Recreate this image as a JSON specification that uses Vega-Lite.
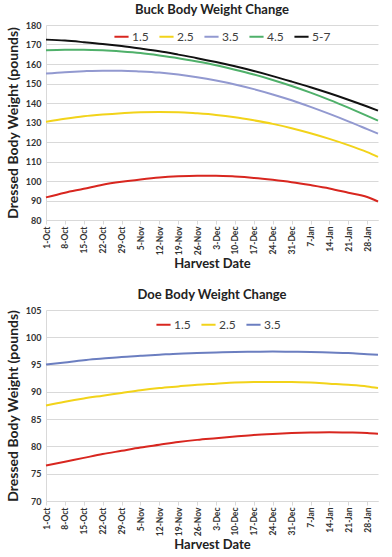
{
  "$schema": "https://vega.github.io/schema/vega-lite/v6.json",
  "padding": {"left": 6, "top": 4, "right": 6, "bottom": 2},
  "background": "white",
  "config": {
    "font": "Lato",
    "view": {"stroke": null},
    "title": {"fontSize": 13, "fontWeight": "bold", "color": "#222222", "offset": 4},
    "axis": {
      "labelFont": "Lato", "labelFontWeight": "bold", "labelColor": "#333333",
      "titleFont": "Lato", "titleFontWeight": "bold", "titleColor": "#222222", "titleFontSize": 14,
      "gridColor": "#d9d9d9", "domainColor": "#d9d9d9", "tickColor": "#d9d9d9"
    },
    "legend": {
      "labelFont": "Lato", "labelFontSize": 12, "labelColor": "#404040",
      "symbolType": "stroke", "symbolSize": 200, "symbolStrokeWidth": 2,
      "orient": "none", "direction": "horizontal", "title": null, "columnPadding": 6, "labelOffset": 2
    }
  },
  "datasets": {
    "buck": [
      {"date": "2020-10-01", "age": "1.5", "weight": 91.6}, {"date": "2020-10-08", "age": "1.5", "weight": 94.0}, {"date": "2020-10-15", "age": "1.5", "weight": 96.0}, {"date": "2020-10-22", "age": "1.5", "weight": 98.1}, {"date": "2020-10-29", "age": "1.5", "weight": 99.6}, {"date": "2020-11-05", "age": "1.5", "weight": 100.8}, {"date": "2020-11-12", "age": "1.5", "weight": 101.8}, {"date": "2020-11-19", "age": "1.5", "weight": 102.4}, {"date": "2020-11-26", "age": "1.5", "weight": 102.7}, {"date": "2020-12-03", "age": "1.5", "weight": 102.7}, {"date": "2020-12-10", "age": "1.5", "weight": 102.3}, {"date": "2020-12-17", "age": "1.5", "weight": 101.6}, {"date": "2020-12-24", "age": "1.5", "weight": 100.6}, {"date": "2020-12-31", "age": "1.5", "weight": 99.4}, {"date": "2021-01-07", "age": "1.5", "weight": 97.9}, {"date": "2021-01-14", "age": "1.5", "weight": 96.2}, {"date": "2021-01-21", "age": "1.5", "weight": 94.0}, {"date": "2021-01-28", "age": "1.5", "weight": 91.8}, {"date": "2021-02-01", "age": "1.5", "weight": 89.5},
      {"date": "2020-10-01", "age": "2.5", "weight": 130.4}, {"date": "2020-10-08", "age": "2.5", "weight": 131.9}, {"date": "2020-10-15", "age": "2.5", "weight": 133.2}, {"date": "2020-10-22", "age": "2.5", "weight": 134.1}, {"date": "2020-10-29", "age": "2.5", "weight": 134.8}, {"date": "2020-11-05", "age": "2.5", "weight": 135.3}, {"date": "2020-11-12", "age": "2.5", "weight": 135.4}, {"date": "2020-11-19", "age": "2.5", "weight": 135.3}, {"date": "2020-11-26", "age": "2.5", "weight": 134.7}, {"date": "2020-12-03", "age": "2.5", "weight": 133.9}, {"date": "2020-12-10", "age": "2.5", "weight": 132.7}, {"date": "2020-12-17", "age": "2.5", "weight": 131.1}, {"date": "2020-12-24", "age": "2.5", "weight": 129.3}, {"date": "2020-12-31", "age": "2.5", "weight": 127.1}, {"date": "2021-01-07", "age": "2.5", "weight": 124.5}, {"date": "2021-01-14", "age": "2.5", "weight": 121.6}, {"date": "2021-01-21", "age": "2.5", "weight": 118.4}, {"date": "2021-01-28", "age": "2.5", "weight": 114.8}, {"date": "2021-02-01", "age": "2.5", "weight": 112.4},
      {"date": "2020-10-01", "age": "3.5", "weight": 155.1}, {"date": "2020-10-08", "age": "3.5", "weight": 155.8}, {"date": "2020-10-15", "age": "3.5", "weight": 156.3}, {"date": "2020-10-22", "age": "3.5", "weight": 156.6}, {"date": "2020-10-29", "age": "3.5", "weight": 156.6}, {"date": "2020-11-05", "age": "3.5", "weight": 156.2}, {"date": "2020-11-12", "age": "3.5", "weight": 155.6}, {"date": "2020-11-19", "age": "3.5", "weight": 154.6}, {"date": "2020-11-26", "age": "3.5", "weight": 153.2}, {"date": "2020-12-03", "age": "3.5", "weight": 151.5}, {"date": "2020-12-10", "age": "3.5", "weight": 149.5}, {"date": "2020-12-17", "age": "3.5", "weight": 147.1}, {"date": "2020-12-24", "age": "3.5", "weight": 144.4}, {"date": "2020-12-31", "age": "3.5", "weight": 141.4}, {"date": "2021-01-07", "age": "3.5", "weight": 138.0}, {"date": "2021-01-14", "age": "3.5", "weight": 134.4}, {"date": "2021-01-21", "age": "3.5", "weight": 130.6}, {"date": "2021-01-28", "age": "3.5", "weight": 126.6}, {"date": "2021-02-01", "age": "3.5", "weight": 124.3},
      {"date": "2020-10-01", "age": "4.5", "weight": 167.0}, {"date": "2020-10-08", "age": "4.5", "weight": 167.3}, {"date": "2020-10-15", "age": "4.5", "weight": 167.3}, {"date": "2020-10-22", "age": "4.5", "weight": 167.0}, {"date": "2020-10-29", "age": "4.5", "weight": 166.4}, {"date": "2020-11-05", "age": "4.5", "weight": 165.6}, {"date": "2020-11-12", "age": "4.5", "weight": 164.4}, {"date": "2020-11-19", "age": "4.5", "weight": 163.0}, {"date": "2020-11-26", "age": "4.5", "weight": 161.3}, {"date": "2020-12-03", "age": "4.5", "weight": 159.4}, {"date": "2020-12-10", "age": "4.5", "weight": 157.1}, {"date": "2020-12-17", "age": "4.5", "weight": 154.6}, {"date": "2020-12-24", "age": "4.5", "weight": 151.8}, {"date": "2020-12-31", "age": "4.5", "weight": 148.7}, {"date": "2021-01-07", "age": "4.5", "weight": 145.3}, {"date": "2021-01-14", "age": "4.5", "weight": 141.6}, {"date": "2021-01-21", "age": "4.5", "weight": 137.6}, {"date": "2021-01-28", "age": "4.5", "weight": 133.4}, {"date": "2021-02-01", "age": "4.5", "weight": 131.0},
      {"date": "2020-10-01", "age": "5-7", "weight": 172.5}, {"date": "2020-10-08", "age": "5-7", "weight": 172.0}, {"date": "2020-10-15", "age": "5-7", "weight": 171.2}, {"date": "2020-10-22", "age": "5-7", "weight": 170.3}, {"date": "2020-10-29", "age": "5-7", "weight": 169.2}, {"date": "2020-11-05", "age": "5-7", "weight": 167.9}, {"date": "2020-11-12", "age": "5-7", "weight": 166.5}, {"date": "2020-11-19", "age": "5-7", "weight": 164.8}, {"date": "2020-11-26", "age": "5-7", "weight": 163.0}, {"date": "2020-12-03", "age": "5-7", "weight": 161.0}, {"date": "2020-12-10", "age": "5-7", "weight": 158.8}, {"date": "2020-12-17", "age": "5-7", "weight": 156.4}, {"date": "2020-12-24", "age": "5-7", "weight": 153.8}, {"date": "2020-12-31", "age": "5-7", "weight": 151.0}, {"date": "2021-01-07", "age": "5-7", "weight": 148.1}, {"date": "2021-01-14", "age": "5-7", "weight": 145.0}, {"date": "2021-01-21", "age": "5-7", "weight": 141.7}, {"date": "2021-01-28", "age": "5-7", "weight": 138.2}, {"date": "2021-02-01", "age": "5-7", "weight": 136.1}
    ],
    "doe": [
      {"date": "2020-10-01", "age": "1.5", "weight": 76.5}, {"date": "2020-10-08", "age": "1.5", "weight": 77.2}, {"date": "2020-10-15", "age": "1.5", "weight": 77.9}, {"date": "2020-10-22", "age": "1.5", "weight": 78.6}, {"date": "2020-10-29", "age": "1.5", "weight": 79.2}, {"date": "2020-11-05", "age": "1.5", "weight": 79.8}, {"date": "2020-11-12", "age": "1.5", "weight": 80.3}, {"date": "2020-11-19", "age": "1.5", "weight": 80.8}, {"date": "2020-11-26", "age": "1.5", "weight": 81.2}, {"date": "2020-12-03", "age": "1.5", "weight": 81.5}, {"date": "2020-12-10", "age": "1.5", "weight": 81.8}, {"date": "2020-12-17", "age": "1.5", "weight": 82.1}, {"date": "2020-12-24", "age": "1.5", "weight": 82.3}, {"date": "2020-12-31", "age": "1.5", "weight": 82.45}, {"date": "2021-01-07", "age": "1.5", "weight": 82.55}, {"date": "2021-01-14", "age": "1.5", "weight": 82.6}, {"date": "2021-01-21", "age": "1.5", "weight": 82.55}, {"date": "2021-01-28", "age": "1.5", "weight": 82.45}, {"date": "2021-02-01", "age": "1.5", "weight": 82.3},
      {"date": "2020-10-01", "age": "2.5", "weight": 87.5}, {"date": "2020-10-08", "age": "2.5", "weight": 88.2}, {"date": "2020-10-15", "age": "2.5", "weight": 88.8}, {"date": "2020-10-22", "age": "2.5", "weight": 89.3}, {"date": "2020-10-29", "age": "2.5", "weight": 89.8}, {"date": "2020-11-05", "age": "2.5", "weight": 90.3}, {"date": "2020-11-12", "age": "2.5", "weight": 90.7}, {"date": "2020-11-19", "age": "2.5", "weight": 91.0}, {"date": "2020-11-26", "age": "2.5", "weight": 91.3}, {"date": "2020-12-03", "age": "2.5", "weight": 91.5}, {"date": "2020-12-10", "age": "2.5", "weight": 91.7}, {"date": "2020-12-17", "age": "2.5", "weight": 91.8}, {"date": "2020-12-24", "age": "2.5", "weight": 91.8}, {"date": "2020-12-31", "age": "2.5", "weight": 91.8}, {"date": "2021-01-07", "age": "2.5", "weight": 91.7}, {"date": "2021-01-14", "age": "2.5", "weight": 91.5}, {"date": "2021-01-21", "age": "2.5", "weight": 91.3}, {"date": "2021-01-28", "age": "2.5", "weight": 91.0}, {"date": "2021-02-01", "age": "2.5", "weight": 90.7},
      {"date": "2020-10-01", "age": "3.5", "weight": 95.0}, {"date": "2020-10-08", "age": "3.5", "weight": 95.4}, {"date": "2020-10-15", "age": "3.5", "weight": 95.8}, {"date": "2020-10-22", "age": "3.5", "weight": 96.1}, {"date": "2020-10-29", "age": "3.5", "weight": 96.4}, {"date": "2020-11-05", "age": "3.5", "weight": 96.6}, {"date": "2020-11-12", "age": "3.5", "weight": 96.8}, {"date": "2020-11-19", "age": "3.5", "weight": 97.0}, {"date": "2020-11-26", "age": "3.5", "weight": 97.1}, {"date": "2020-12-03", "age": "3.5", "weight": 97.2}, {"date": "2020-12-10", "age": "3.5", "weight": 97.3}, {"date": "2020-12-17", "age": "3.5", "weight": 97.35}, {"date": "2020-12-24", "age": "3.5", "weight": 97.4}, {"date": "2020-12-31", "age": "3.5", "weight": 97.35}, {"date": "2021-01-07", "age": "3.5", "weight": 97.3}, {"date": "2021-01-14", "age": "3.5", "weight": 97.2}, {"date": "2021-01-21", "age": "3.5", "weight": 97.1}, {"date": "2021-01-28", "age": "3.5", "weight": 96.9}, {"date": "2021-02-01", "age": "3.5", "weight": 96.8}
    ]
  },
  "vconcat": [
    {
      "title": "Buck Body Weight Change",
      "data": {"name": "buck"},
      "width": 332,
      "height": 195,
      "mark": {"type": "line", "strokeWidth": 2, "interpolate": "monotone"},
      "encoding": {
        "x": {
          "field": "date", "type": "temporal",
          "scale": {"type": "utc", "domain": [{"year": 2020, "month": 10, "date": 1, "utc": true}, {"year": 2021, "month": 2, "date": 1, "utc": true}]},
          "axis": {
            "title": "Harvest Date", "titleFontSize": 13, "format": "%-d-%b", "labelAngle": -90, "labelFontSize": 8.5, "grid": false,
            "tickSize": 4, "labelPadding": 2, "titlePadding": 3, "labelFlush": false, "labelOverlap": false,
            "values": [
              {"year": 2020, "month": 10, "date": 1, "utc": true}, {"year": 2020, "month": 10, "date": 8, "utc": true}, {"year": 2020, "month": 10, "date": 15, "utc": true}, {"year": 2020, "month": 10, "date": 22, "utc": true}, {"year": 2020, "month": 10, "date": 29, "utc": true},
              {"year": 2020, "month": 11, "date": 5, "utc": true}, {"year": 2020, "month": 11, "date": 12, "utc": true}, {"year": 2020, "month": 11, "date": 19, "utc": true}, {"year": 2020, "month": 11, "date": 26, "utc": true},
              {"year": 2020, "month": 12, "date": 3, "utc": true}, {"year": 2020, "month": 12, "date": 10, "utc": true}, {"year": 2020, "month": 12, "date": 17, "utc": true}, {"year": 2020, "month": 12, "date": 24, "utc": true}, {"year": 2020, "month": 12, "date": 31, "utc": true},
              {"year": 2021, "month": 1, "date": 7, "utc": true}, {"year": 2021, "month": 1, "date": 14, "utc": true}, {"year": 2021, "month": 1, "date": 21, "utc": true}, {"year": 2021, "month": 1, "date": 28, "utc": true}
            ]
          }
        },
        "y": {
          "field": "weight", "type": "quantitative",
          "scale": {"domain": [80, 180], "nice": false, "zero": false},
          "axis": {"title": "Dressed Body Weight (pounds)", "values": [80, 90, 100, 110, 120, 130, 140, 150, 160, 170, 180], "labelFontSize": 9, "ticks": false, "labelPadding": 5, "titlePadding": 5}
        },
        "color": {
          "field": "age", "type": "nominal",
          "scale": {"domain": ["1.5", "2.5", "3.5", "4.5", "5-7"], "range": ["#d8261f", "#f2d31a", "#9299d0", "#4fb06a", "#111111"]},
          "legend": {"legendX": 67, "legendY": 3}
        }
      }
    },
    {
      "title": "Doe Body Weight Change",
      "data": {"name": "doe"},
      "width": 332,
      "height": 191,
      "mark": {"type": "line", "strokeWidth": 2, "interpolate": "monotone"},
      "encoding": {
        "x": {
          "field": "date", "type": "temporal",
          "scale": {"type": "utc", "domain": [{"year": 2020, "month": 10, "date": 1, "utc": true}, {"year": 2021, "month": 2, "date": 1, "utc": true}]},
          "axis": {
            "title": "Harvest Date", "titleFontSize": 13, "format": "%-d-%b", "labelAngle": -90, "labelFontSize": 8.5, "grid": false,
            "tickSize": 4, "labelPadding": 2, "titlePadding": 3, "labelFlush": false, "labelOverlap": false,
            "values": [
              {"year": 2020, "month": 10, "date": 1, "utc": true}, {"year": 2020, "month": 10, "date": 8, "utc": true}, {"year": 2020, "month": 10, "date": 15, "utc": true}, {"year": 2020, "month": 10, "date": 22, "utc": true}, {"year": 2020, "month": 10, "date": 29, "utc": true},
              {"year": 2020, "month": 11, "date": 5, "utc": true}, {"year": 2020, "month": 11, "date": 12, "utc": true}, {"year": 2020, "month": 11, "date": 19, "utc": true}, {"year": 2020, "month": 11, "date": 26, "utc": true},
              {"year": 2020, "month": 12, "date": 3, "utc": true}, {"year": 2020, "month": 12, "date": 10, "utc": true}, {"year": 2020, "month": 12, "date": 17, "utc": true}, {"year": 2020, "month": 12, "date": 24, "utc": true}, {"year": 2020, "month": 12, "date": 31, "utc": true},
              {"year": 2021, "month": 1, "date": 7, "utc": true}, {"year": 2021, "month": 1, "date": 14, "utc": true}, {"year": 2021, "month": 1, "date": 21, "utc": true}, {"year": 2021, "month": 1, "date": 28, "utc": true}
            ]
          }
        },
        "y": {
          "field": "weight", "type": "quantitative",
          "scale": {"domain": [70, 105], "nice": false, "zero": false},
          "axis": {"title": "Dressed Body Weight (pounds)", "values": [70, 75, 80, 85, 90, 95, 100, 105], "labelFontSize": 9, "ticks": false, "labelPadding": 5, "titlePadding": 5}
        },
        "color": {
          "field": "age", "type": "nominal",
          "scale": {"domain": ["1.5", "2.5", "3.5"], "range": ["#d8261f", "#f2d31a", "#6b7ec0"]},
          "legend": {"legendX": 109, "legendY": 6}
        }
      }
    }
  ],
  "spacing": 18,
  "resolve": {"scale": {"color": "independent"}, "legend": {"color": "independent"}}
}
